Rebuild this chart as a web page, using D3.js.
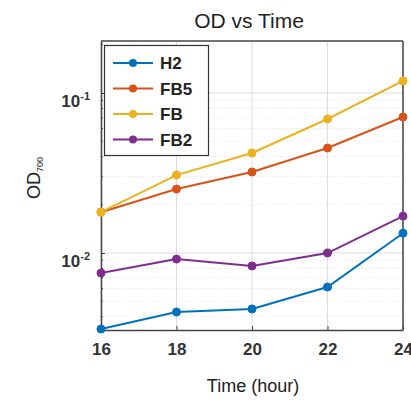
<!DOCTYPE html>
<html><head><meta charset="utf-8">
<script src="https://cdn.jsdelivr.net/npm/d3@7"></script>
<style>body{margin:0;background:#fff;}svg{font-family:"Liberation Sans",Arial,sans-serif;}</style>
</head><body><svg id="c" width="411" height="400"></svg>
<script>
const times = [16, 18, 20, 22, 24];
const seriesNames = ["H2", "FB5", "FB", "FB2"];
const H2  = [0.00335, 0.00428, 0.00447, 0.00613, 0.0133];
const FB5 = [0.0180, 0.0251, 0.0321, 0.0453, 0.0708];
const FB  = [0.0180, 0.0307, 0.0422, 0.0688, 0.119];
const FB2 = [0.0075, 0.00917, 0.0083, 0.0100, 0.0170];
const xTicks = [16, 18, 20, 22, 24];
const yMajor = [0.1, 0.01];
const colors = ["#0072BD", "#D95319", "#EDB120", "#7E2F8E"];
const seriesVals = [H2, FB5, FB, FB2];

const svg = d3.select("#c");
const L = 101, R = 403, T = 41, B = 330;
const x = d3.scaleLinear().domain([16, 24]).range([L, R]);
const y = d3.scaleLog().domain([Math.pow(10, -2.481), Math.pow(10, -0.675)]).range([B, T]);

// minor grid
const minor = [];
for (let k = -3; k <= -1; k++) for (let m = 2; m <= 9; m++) {
  const v = m * Math.pow(10, k);
  if (v > y.domain()[0] && v < y.domain()[1]) minor.push(v);
}
svg.append("g").selectAll("line").data(minor).join("line")
  .attr("x1", L).attr("x2", R).attr("y1", d => y(d)).attr("y2", d => y(d))
  .attr("stroke", "#e4e4e4").attr("stroke-width", 1).attr("stroke-dasharray", "1,2");
// major grid
svg.append("g").selectAll("line").data(yMajor).join("line")
  .attr("x1", L).attr("x2", R).attr("y1", d => y(d)).attr("y2", d => y(d))
  .attr("stroke", "#dcdcdc").attr("stroke-width", 1);
svg.append("g").selectAll("line").data(xTicks).join("line")
  .attr("x1", d => x(d)).attr("x2", d => x(d)).attr("y1", T).attr("y2", B)
  .attr("stroke", "#dcdcdc").attr("stroke-width", 1);

// axes
const xAxis = svg.append("g").attr("transform", `translate(0,${B})`)
  .call(d3.axisBottom(x).tickValues(xTicks).tickSizeInner(-4).tickSizeOuter(0).tickPadding(13));
xAxis.select(".domain").attr("stroke", "#444").attr("stroke-width", 1.5);
xAxis.selectAll(".tick line").attr("stroke", "#444");
xAxis.selectAll("text").attr("font-size", 17).attr("font-weight", "bold").attr("fill", "#333");

const yAxis = svg.append("g").attr("transform", `translate(${L},0)`)
  .call(d3.axisLeft(y).tickValues(yMajor).tickSizeInner(-4).tickSizeOuter(0).tickFormat(""));
yAxis.select(".domain").attr("stroke", "#444").attr("stroke-width", 1.5);
yAxis.selectAll(".tick line").attr("stroke", "#444");
yAxis.selectAll(".tick").each(function(d) {
  const t = d3.select(this).append("text").attr("x", -11).attr("y", 13)
    .attr("text-anchor", "end").attr("fill", "#333").attr("font-size", 17).attr("font-weight", "bold");
  t.append("tspan").text("10");
  t.append("tspan").attr("dy", "-0.6em").attr("font-size", 11).text(String(Math.round(Math.log10(d))));
});
// minor ticks
svg.append("g").selectAll("line").data(minor).join("line")
  .attr("x1", L).attr("x2", L + 2).attr("y1", d => y(d)).attr("y2", d => y(d)).attr("stroke", "#444");
// box top/right
svg.append("line").attr("x1", L).attr("x2", R).attr("y1", T).attr("y2", T).attr("stroke", "#444").attr("stroke-width", 1.5);
svg.append("line").attr("x1", R).attr("x2", R).attr("y1", T).attr("y2", B).attr("stroke", "#444").attr("stroke-width", 1.5);

// lines
const line = d3.line().x((d, i) => x(times[i])).y(d => y(d));
seriesVals.forEach((vals, s) => {
  svg.append("path").datum(vals).attr("d", line).attr("fill", "none")
    .attr("stroke", colors[s]).attr("stroke-width", 2);
  svg.append("g").selectAll("circle").data(vals).join("circle")
    .attr("cx", (d, i) => x(times[i])).attr("cy", d => y(d)).attr("r", 4)
    .attr("fill", colors[s]).attr("stroke", colors[s]);
});

// legend
const lg = svg.append("g");
lg.append("rect").attr("x", 104.5).attr("y", 45.5).attr("width", 104).attr("height", 110)
  .attr("fill", "#fff").attr("stroke", "#333").attr("stroke-width", 1.2);
seriesNames.forEach((n, i) => {
  const yy = 63 + i * 25.5;
  lg.append("line").attr("x1", 113).attr("x2", 153).attr("y1", yy).attr("y2", yy)
    .attr("stroke", colors[i]).attr("stroke-width", 2);
  lg.append("circle").attr("cx", 133).attr("cy", yy).attr("r", 4).attr("fill", colors[i]);
  lg.append("text").attr("x", 160).attr("y", yy).attr("dy", "0.36em")
    .attr("font-size", 17).attr("font-weight", "bold").attr("fill", "#222").text(n);
});

// title & labels
svg.append("text").attr("x", 249).attr("y", 28).attr("text-anchor", "middle")
  .attr("font-size", 21).attr("fill", "#222").text("OD vs Time");
svg.append("text").attr("x", 253).attr("y", 392).attr("text-anchor", "middle")
  .attr("font-size", 18).attr("fill", "#222").text("Time (hour)");
const yl = svg.append("text").attr("transform", "translate(40,178) rotate(-90)")
  .attr("text-anchor", "middle").attr("font-size", 18).attr("fill", "#222");
yl.append("tspan").text("OD");
yl.append("tspan").attr("dy", "0.35em").attr("font-size", 9).text("700");
</script></body></html>
